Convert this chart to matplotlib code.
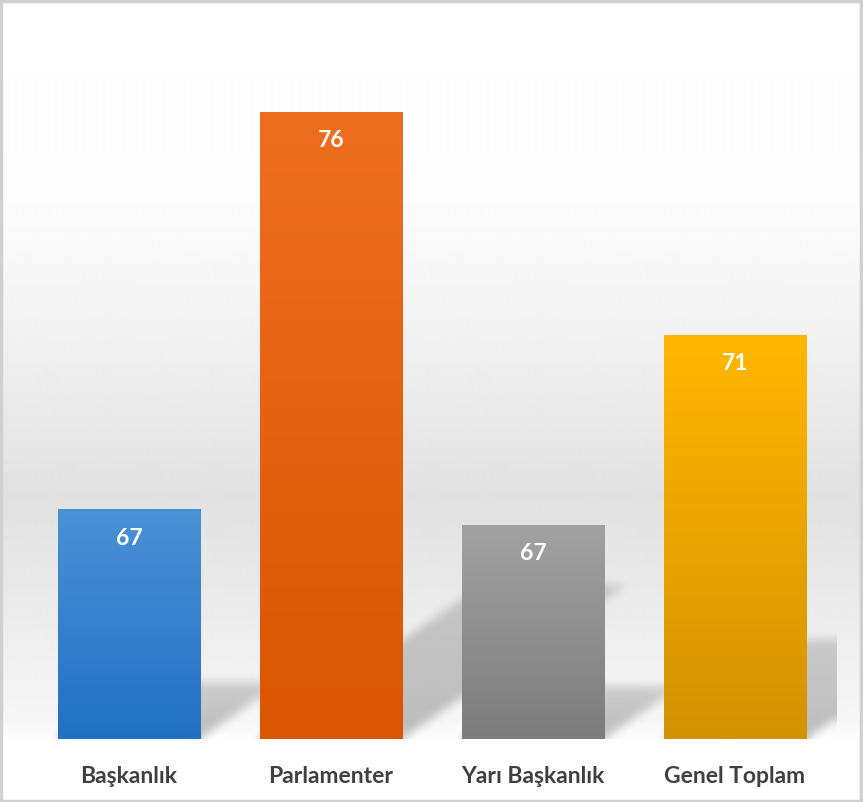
import numpy as np
import matplotlib
matplotlib.use("Agg")
import matplotlib.pyplot as plt
from matplotlib.colors import LinearSegmentedColormap
from matplotlib.patches import Rectangle

# data
categories = ["Başkanlık", "Parlamenter", "Yarı Başkanlık", "Genel Toplam"]
values = [67.0, 76.0, 66.65, 70.95]
labels = ["67", "76", "67", "71"]
top_colors = ["#4b91d5", "#ee6e20", "#a2a2a2", "#ffb700"]
bottom_colors = ["#2170c4", "#d95502", "#7c7c7c", "#d39200"]

W, H = 863, 803
fig = plt.figure(figsize=(W / 100, H / 100), dpi=100)

# chart-area background: vertical grey gradient
bg = fig.add_axes([0, 0, 1, 1], zorder=0)
yy = np.linspace(0, 1, H)  # 0 = top
stops = [0.0, 0.25, 0.45, 0.62, 0.72, 0.82, 0.9, 0.925, 1.0]
levels = [1.0, 0.99, 0.935, 0.885, 0.91, 0.94, 0.965, 1.0, 1.0]
col = np.interp(yy, stops, levels)
bg.imshow(np.repeat(col[:, None], 4, axis=1), cmap="gray", vmin=0, vmax=1,
          aspect="auto", extent=[0, 1, 0, 1], interpolation="bilinear")
bg.set_axis_off()

# plot area
left, right = 28 / W, 836 / W
bottom, top = (H - 740) / H, (H - 20) / H
ax = fig.add_axes([left, bottom, right - left, top - bottom], zorder=1)
ax.patch.set_alpha(0)
ymin, ymax = 61.8, 78.1
ax.set_xlim(-0.5, 3.5)
ax.set_ylim(ymin, ymax)

x = np.arange(len(categories))
bars = ax.bar(x, [v - ymin for v in values], bottom=ymin, width=0.707,
              color=bottom_colors, zorder=3)

# perspective shadows behind bars, built in pixel space and blurred
pw, ph = 808, 720
px_per_x = pw / 4.0
px_per_y = ph / (ymax - ymin)
sh = np.zeros((ph, pw))
rows = np.arange(ph)
for b in bars:
    L = (b.get_x() + 0.5) * px_per_x
    R = L + b.get_width() * px_per_x
    hgt = b.get_height() * px_per_y
    sH = 0.245 * hgt
    dx = 1.45 * sH
    for r in rows:
        t = r / sH
        if t > 1:
            break
        x0, x1 = int(L + dx * t), int(R + dx * t)
        sh[ph - 1 - r, max(x0, 0):min(x1, pw)] = np.maximum(
            sh[ph - 1 - r, max(x0, 0):min(x1, pw)], 0.38 * (1 - 0.35 * t))


def box_blur(a, r):
    pad = np.pad(a, r, mode="edge")
    c = np.cumsum(pad, axis=0)
    c = np.vstack([np.zeros((1, c.shape[1])), c])
    a = (c[2 * r + 1:] - c[:-2 * r - 1]) / (2 * r + 1)
    c = np.cumsum(a, axis=1)
    c = np.hstack([np.zeros((c.shape[0], 1)), c])
    return (c[:, 2 * r + 1:] - c[:, :-2 * r - 1]) / (2 * r + 1)


for _ in range(3):
    sh = box_blur(sh, 4)
rgba = np.zeros((ph, pw, 4))
rgba[..., :3] = 0.35
rgba[..., 3] = sh
ax.imshow(rgba, extent=[-0.5, 3.5, ymin, ymax], aspect="auto", zorder=2,
          interpolation="bilinear")

# gradient fill for each bar
for b, c0, c1 in zip(bars, top_colors, bottom_colors):
    cm = LinearSegmentedColormap.from_list("g", [c1, c0])
    grad = np.linspace(1, 0, 256)[:, None]
    x0, w = b.get_x(), b.get_width()
    im = ax.imshow(grad, cmap=cm, vmin=0, vmax=1, aspect="auto", zorder=4,
                   extent=[x0, x0 + w, ymin, ymin + b.get_height()])
    im.set_clip_path(b)

for b, lab in zip(bars, labels):
    ax.annotate(lab, (b.get_x() + b.get_width() / 2, b.get_y() + b.get_height()),
                xytext=(0, -28), textcoords="offset pixels", ha="center",
                va="center", color="white", fontsize=16.5, fontweight="bold",
                family="Lato", zorder=5)

ax.set_xticks(x)
ax.set_xticklabels(categories, fontsize=16.5, fontweight="bold", family="Lato",
                   color="#404040")
ax.tick_params(axis="x", length=0, pad=19)
ax.set_yticks([])
for s in ax.spines.values():
    s.set_visible(False)

fig.patches.append(Rectangle((0.001, 0.001), 0.997, 0.997, transform=fig.transFigure,
                             fill=False, edgecolor="#d0d0d0", linewidth=2.5))

fig.savefig("out.png", dpi=100)
